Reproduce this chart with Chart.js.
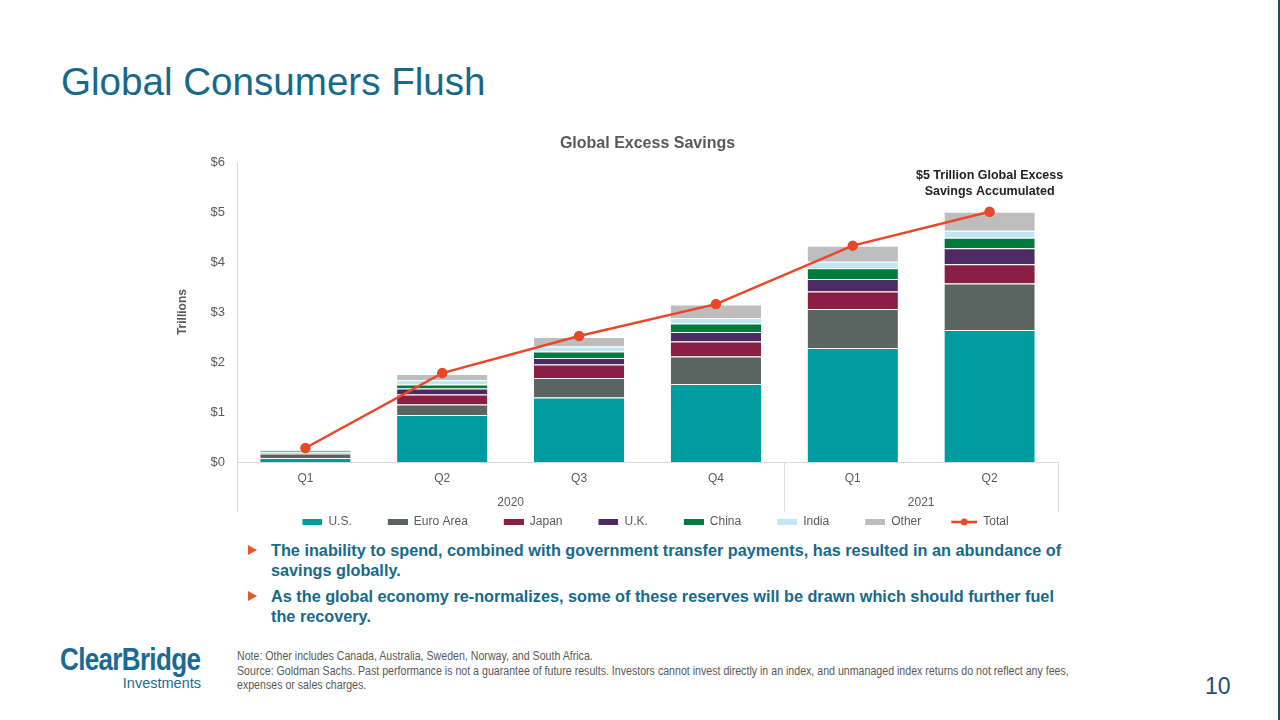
<!DOCTYPE html>
<html>
<head>
<meta charset="utf-8">
<script src="https://cdn.jsdelivr.net/npm/chart.js@4"></script>
<style>
  html, body { margin: 0; padding: 0; background: #fff; }
  body { width: 1280px; height: 720px; position: relative; overflow: hidden; font-family: 'Liberation Sans', Arial, sans-serif; }
  #edge { position: absolute; left: 1278px; top: 0; width: 2px; height: 720px; background: #1d4d5c; }
  #title { position: absolute; left: 61px; top: 60px; font-size: 38.6px; color: #17698a; white-space: nowrap; }
  #chartBox { position: absolute; left: 160px; top: 125px; width: 920px; height: 413px; }
  .bullets { position: absolute; left: 248px; top: 540px; width: 840px; }
  .bullet { position: relative; padding-left: 23px; font-weight: bold; font-size: 16.25px; line-height: 20px; color: #17698a; margin-bottom: 6px; white-space: nowrap; }
  .bullet::before { content: ''; position: absolute; left: 0; top: 5px; border-left: 9px solid #e8572a; border-top: 5px solid transparent; border-bottom: 5px solid transparent; }
  #notes { position: absolute; left: 237px; top: 649px; font-size: 12px; line-height: 14.5px; color: #595959; white-space: nowrap; transform: scaleX(0.885); transform-origin: 0 0; }
  #logo { position: absolute; left: 60px; top: 644px; width: 141px; color: #1a6a96; }
  #logo .big { font-size: 31px; font-weight: bold; letter-spacing: -0.8px; line-height: 32px; white-space: nowrap; transform: scaleX(0.84); transform-origin: 0 0; }
  #logo .small { font-size: 14.5px; line-height: 15px; text-align: right; }
  #page { position: absolute; left: 1205px; top: 673px; font-size: 23px; color: #1f4e79; }
</style>
</head>
<body>
<div id="edge"></div>
<div id="title">Global Consumers Flush</div>
<div id="chartBox"><canvas id="myChart"></canvas></div>
<div class="bullets">
  <div class="bullet">The inability to spend, combined with government transfer payments, has resulted in an abundance of<br>savings globally.</div>
  <div class="bullet">As the global economy re-normalizes, some of these reserves will be drawn which should further fuel<br>the recovery.</div>
</div>
<div id="notes">
  Note: Other includes Canada, Australia, Sweden, Norway, and South Africa.<br>
  Source: Goldman Sachs. Past performance is not a guarantee of future results. Investors cannot invest directly in an index, and unmanaged index returns do not reflect any fees,<br>
  expenses or sales charges.
</div>
<div id="logo"><div class="big">ClearBridge</div><div class="small">Investments</div></div>
<div id="page">10</div>

<script>
// datos (billones de USD)
const quarters = ['Q1', 'Q2', 'Q3', 'Q4', 'Q1', 'Q2'];
const years = ['2020', '2020', '2020', '2020', '2021', '2021'];
const yTicks = ['$0', '$1', '$2', '$3', '$4', '$5', '$6'];

const us       = [0.08, 0.94, 1.29, 1.56, 2.28, 2.64];
const euroArea = [0.09, 0.21, 0.39, 0.55, 0.78, 0.93];
const japan    = [0.02, 0.20, 0.27, 0.30, 0.35, 0.39];
const uk       = [0.01, 0.12, 0.13, 0.19, 0.25, 0.32];
const china    = [0.02, 0.08, 0.13, 0.17, 0.22, 0.21];
const india    = [0.01, 0.09, 0.10, 0.11, 0.13, 0.14];
const other    = [0.02, 0.12, 0.19, 0.27, 0.32, 0.38];
const total    = [0.28, 1.78, 2.52, 3.16, 4.33, 5.01];

const note = ['$5 Trillion Global Excess', 'Savings Accumulated'];

const font = "'Liberation Sans', Arial, sans-serif";
const gray = '#595959';

// iconos de la leyenda (el hueco a la izquierda separa los items)
const ICON_W = 36;
function legendBox(color) {
    const c = document.createElement('canvas');
    c.width = ICON_W; c.height = 6;
    const g = c.getContext('2d');
    g.fillStyle = color;
    g.fillRect(ICON_W - 20, 0, 20, 6);
    return c;
}
function legendLine(color) {
    const c = document.createElement('canvas');
    c.width = ICON_W; c.height = 10;
    const g = c.getContext('2d');
    g.strokeStyle = color; g.lineWidth = 2.5;
    g.beginPath(); g.moveTo(ICON_W - 26, 5); g.lineTo(ICON_W, 5); g.stroke();
    g.fillStyle = color;
    g.beginPath(); g.arc(ICON_W - 13, 5, 3.5, 0, Math.PI * 2); g.fill();
    return c;
}
const icons = [];

function barSet(label, data, color) {
    icons.push(legendBox(color));
    return {
        type: 'bar',
        label: label,
        data: data,
        backgroundColor: color,
        borderColor: '#ffffff',
        borderWidth: { top: 1, left: 0, right: 0, bottom: 0 },
        borderSkipped: false,
        barPercentage: 0.66,
        categoryPercentage: 1,
        stack: 's',
        order: 2
    };
}

// años agrupados y separadores bajo el eje x
const yearGroups = {
    id: 'yearGroups',
    afterDraw(chart) {
        const { ctx, chartArea, scales: { x } } = chart;
        const half = (x.getPixelForValue(1) - x.getPixelForValue(0)) / 2;
        const bottom = chartArea.bottom + 50;
        ctx.save();
        ctx.strokeStyle = '#d9d9d9';
        ctx.lineWidth = 1;
        const bounds = [0];
        for (let i = 1; i < years.length; i++) if (years[i] !== years[i - 1]) bounds.push(i);
        bounds.push(years.length);
        bounds.forEach(i => {
            const px = Math.round(x.getPixelForValue(i) - half) + 0.5;
            ctx.beginPath(); ctx.moveTo(px, chartArea.bottom); ctx.lineTo(px, bottom); ctx.stroke();
        });
        ctx.fillStyle = gray;
        ctx.font = '12px ' + font;
        ctx.textAlign = 'center';
        ctx.textBaseline = 'middle';
        for (let b = 0; b < bounds.length - 1; b++) {
            const a = x.getPixelForValue(bounds[b]);
            const z = x.getPixelForValue(bounds[b + 1] - 1);
            ctx.fillText(years[bounds[b]], (a + z) / 2, chartArea.bottom + 41);
        }
        // nota sobre el último punto
        const meta = chart.getDatasetMeta(7);
        const last = meta.data[meta.data.length - 1];
        ctx.fillStyle = '#222';
        ctx.font = 'bold 12.5px ' + font;
        ctx.fillText(note[0], last.x, last.y - 36);
        ctx.fillText(note[1], last.x, last.y - 20);
        ctx.restore();
    }
};

const datasets = [
    barSet('U.S.', us, '#009b9e'),
    barSet('Euro Area', euroArea, '#5a6562'),
    barSet('Japan', japan, '#8a1f45'),
    barSet('U.K.', uk, '#4e2a62'),
    barSet('China', china, '#007a3d'),
    barSet('India', india, '#bfe6f2'),
    barSet('Other', other, '#bdbdbd'),
    {
        type: 'line',
        label: 'Total',
        data: total,
        borderColor: '#e8472a',
        backgroundColor: '#e8472a',
        borderWidth: 2.5,
        pointRadius: 4,
        pointHoverRadius: 4,
        tension: 0,
        order: 1
    }
];
icons.push(legendLine('#e8472a'));

const ctx = document.getElementById('myChart');
new Chart(ctx, {
    data: { labels: quarters, datasets: datasets },
    options: {
        responsive: true,
        maintainAspectRatio: false,
        animation: false,
        layout: { padding: { left: 0, right: 22, top: 0, bottom: 0 } },
        scales: {
            x: {
                stacked: true,
                grid: { display: false, drawTicks: false },
                border: { color: '#d9d9d9' },
                ticks: { color: gray, font: { family: font, size: 12 }, padding: 9 },
                afterFit(scale) { scale.height = 34; }
            },
            y: {
                stacked: true,
                min: 0,
                max: 6,
                grid: { display: false, drawTicks: false },
                border: { color: '#d9d9d9' },
                ticks: {
                    stepSize: 1,
                    color: gray,
                    font: { family: font, size: 13 },
                    padding: 12,
                    callback: (v) => yTicks[v]
                },
                title: {
                    display: true,
                    text: 'Trillions',
                    color: gray,
                    font: { family: font, size: 12, weight: 'bold' },
                    padding: { top: 15, bottom: 0 }
                },
                afterFit(scale) { scale.width = 77; }
            }
        },
        plugins: {
            title: {
                display: true,
                fullSize: false,
                text: 'Global Excess Savings',
                color: gray,
                font: { family: font, size: 16, weight: 'bold' },
                padding: { top: 9, bottom: 9 }
            },
            legend: {
                position: 'bottom',
                fullSize: false,
                labels: {
                    usePointStyle: true,
                    pointStyleWidth: ICON_W,
                    color: gray,
                    font: { family: font, size: 12 },
                    padding: 20,
                    sort: (a, b) => a.datasetIndex - b.datasetIndex,
                    generateLabels(chart) {
                        const items = Chart.defaults.plugins.legend.labels.generateLabels(chart);
                        items.forEach(it => { it.pointStyle = icons[it.datasetIndex]; });
                        return items;
                    }
                }
            },
            tooltip: { enabled: false }
        }
    },
    plugins: [yearGroups]
});
</script>
</body>
</html>
